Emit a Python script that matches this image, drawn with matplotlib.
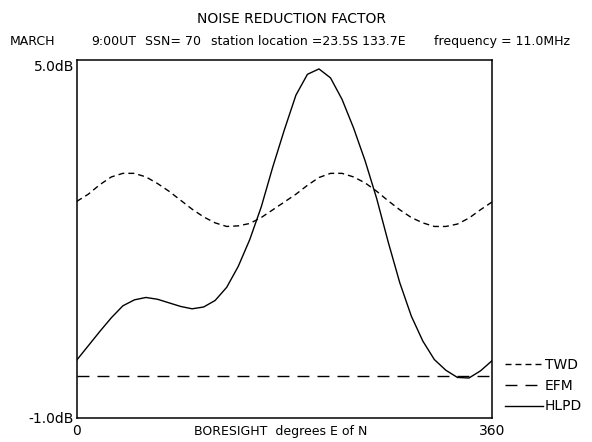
import numpy as np
import matplotlib
matplotlib.use('Agg')
import matplotlib.pyplot as plt
from matplotlib.lines import Line2D

plt.rcParams['font.family'] = ['DejaVu Sans']

# boresight azimuth, degrees E of N
azimuth = list(range(0, 361, 10))

# noise reduction factor, dB
twd = [2.63, 2.75, 2.91, 3.04, 3.10, 3.10, 3.04, 2.93, 2.80, 2.65,
       2.50, 2.37, 2.27, 2.21, 2.22, 2.26, 2.36, 2.49, 2.62, 2.75,
       2.90, 3.03, 3.10, 3.10, 3.04, 2.94, 2.80, 2.64, 2.49, 2.36,
       2.27, 2.21, 2.21, 2.25, 2.35, 2.49, 2.62]
efm = [-0.29] * len(azimuth)
hlpd = [-0.03, 0.21, 0.45, 0.68, 0.88, 0.98, 1.02, 0.99, 0.93, 0.87,
        0.83, 0.86, 0.97, 1.19, 1.54, 1.99, 2.54, 3.21, 3.83, 4.41,
        4.76, 4.85, 4.70, 4.34, 3.86, 3.31, 2.68, 1.95, 1.27, 0.71,
        0.29, -0.02, -0.20, -0.32, -0.33, -0.21, -0.04]

series_names = ['TWD', 'EFM', 'HLPD']
x_ticks = [0, 360]
y_ticks = [-1.0, 5.0]

fig = plt.figure(figsize=(5.92, 4.42), dpi=100)
ax = fig.add_axes([0.1296, 0.0543, 0.7015, 0.81])

lw = 1.0
twd_dash = (4.3, 2.9)
efm_dash = (8.6, 5.8)
ax.plot(azimuth, twd, color='black', lw=lw, dashes=twd_dash)
ax.plot(azimuth, efm, color='black', lw=lw, dashes=efm_dash)
ax.plot(azimuth, hlpd, color='black', lw=lw)

ax.set_xlim(0, 360)
ax.set_ylim(-1.0, 5.0)
for s in ax.spines.values():
    s.set_linewidth(1.1)

ax.set_xticks(x_ticks)
ax.set_xticklabels([str(v) for v in x_ticks], fontsize=10)
ax.set_yticks(y_ticks)
ax.set_yticklabels(['%.1fdB' % v for v in y_ticks], fontsize=10)
ax.tick_params(length=0, pad=2)
ax.tick_params(axis='x', pad=4)
ax.get_yticklabels()[1].set_va('top')

ax.set_xlabel('BORESIGHT  degrees E of N', fontsize=9)
ax.xaxis.set_label_coords(0.49, -0.02)
ax.xaxis.label.set_va('top')

fig.text(0.493, 0.958, 'NOISE REDUCTION FACTOR', ha='center', va='center', fontsize=10)
sub_y = 0.907
sub_fs = 9
fig.text(10 / 592, sub_y, 'MARCH', ha='left', va='center', fontsize=sub_fs)
fig.text(91 / 592, sub_y, '9:00UT', ha='left', va='center', fontsize=sub_fs)
fig.text(145 / 592, sub_y, 'SSN= 70', ha='left', va='center', fontsize=sub_fs)
fig.text(211 / 592, sub_y, 'station location =23.5S 133.7E', ha='left', va='center', fontsize=sub_fs)
fig.text(434 / 592, sub_y, 'frequency = 11.0MHz', ha='left', va='center', fontsize=sub_fs)

handles = [Line2D([], [], color='black', lw=lw, dashes=twd_dash),
           Line2D([], [], color='black', lw=lw, dashes=efm_dash),
           Line2D([], [], color='black', lw=lw)]
fig.legend(handles, series_names, loc='upper left', bbox_to_anchor=(505 / 592, 0.191),
           bbox_transform=fig.transFigure, frameon=False, fontsize=10,
           handlelength=2.7, handletextpad=0.15, borderpad=0, borderaxespad=0,
           labelspacing=0.5)

fig.savefig('out.png', dpi=100)
